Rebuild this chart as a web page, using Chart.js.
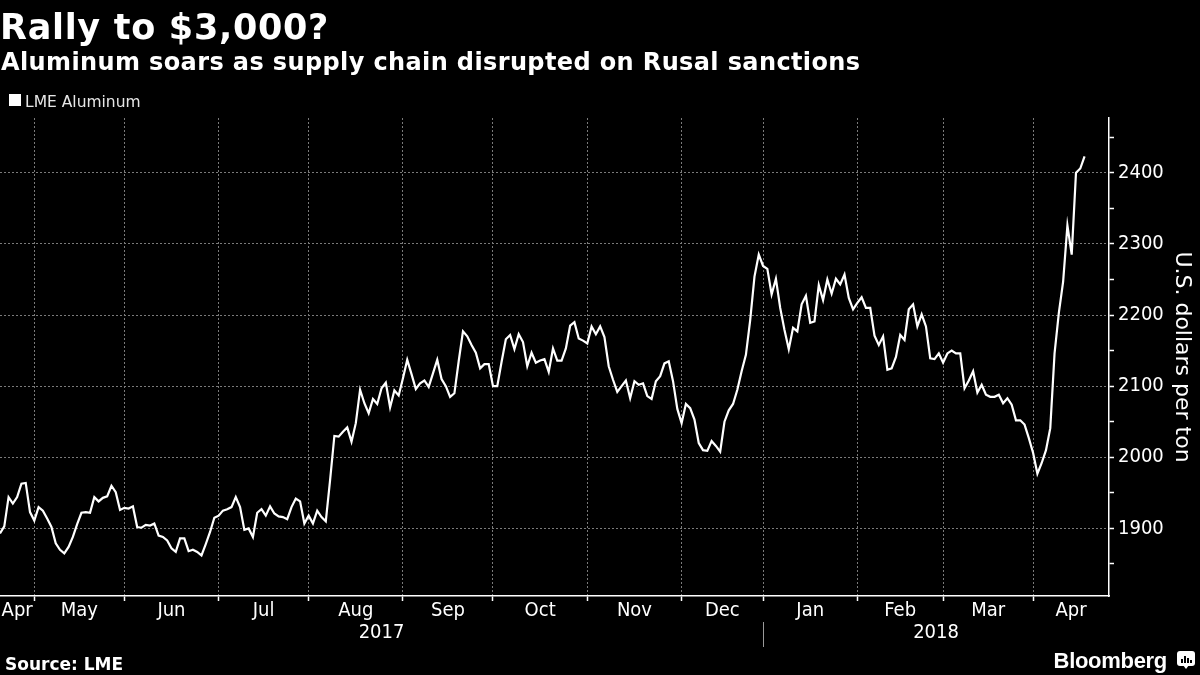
<!DOCTYPE html>
<html>
<head>
<meta charset="utf-8">
<title>Rally to $3,000?</title>
<script src="https://cdn.jsdelivr.net/npm/chart.js"></script>
<style>
    html, body { margin: 0; padding: 0; background: #000; }
    #wrap { position: relative; width: 1200px; height: 675px; overflow: hidden; background: #000; }
    #chart { position: absolute; left: 0; top: 0; }
    .txt { position: absolute; color: #fff; white-space: nowrap; line-height: 1; }
    #title { left: 0; top: 7px; font: bold 35px "DejaVu Sans"; letter-spacing: 0.7px; }
    #subtitle { left: 1px; top: 48px; font: bold 24px "DejaVu Sans"; letter-spacing: 0.38px; }
    #legendBox { position: absolute; left: 9px; top: 94px; width: 12px; height: 12px; background: #fff; }
    #legendText { left: 25px; top: 93px; font: 15.5px "DejaVu Sans"; color: #e6e6e6; }
    #source { left: 5px; top: 654px; font: bold 17px "DejaVu Sans"; }
    #brand { right: 33px; top: 648px; font: bold 22px "Liberation Sans"; letter-spacing: -0.3px; }
    #icon { position: absolute; left: 1177px; top: 651px; width: 18px; height: 15px; background: #fff; border-radius: 3px; }
    #icon i { position: absolute; bottom: 3px; width: 2px; background: #000; }
    #iconTail { position: absolute; left: 1183px; top: 665px; width: 0; height: 0;
        border-left: 3px solid transparent; border-right: 3px solid transparent; border-top: 4px solid #fff; }
</style>
</head>
<body>
<div id="wrap">
    <canvas id="chart" width="1200" height="675"></canvas>
    <div class="txt" id="title">Rally to $3,000?</div>
    <div class="txt" id="subtitle">Aluminum soars as supply chain disrupted on Rusal sanctions</div>
    <div id="legendBox"></div>
    <div class="txt" id="legendText">LME Aluminum</div>
    <div class="txt" id="source">Source: LME</div>
    <div class="txt" id="brand">Bloomberg</div>
    <div id="icon">
        <i style="left:4px;height:4px"></i>
        <i style="left:7px;height:7px"></i>
        <i style="left:10px;height:5px"></i>
        <i style="left:13px;height:3px"></i>
    </div>
    <div id="iconTail"></div>
</div>
<script>
// LME aluminium closes (USD/t), one array per month of trading days
const apr17 = [1893, 1903, 1944, 1935, 1944, 1963, 1964, 1923];
const may17 = [1911, 1930, 1925, 1914, 1902, 1879, 1870, 1865, 1874, 1888, 1906, 1922, 1923, 1922, 1944, 1938, 1943, 1945, 1960, 1951, 1926];
const jun17 = [1929, 1928, 1931, 1902, 1901, 1905, 1904, 1907, 1890, 1888, 1883, 1872, 1867, 1886, 1886, 1868, 1870, 1867, 1862, 1878, 1895, 1915];
const jul17 = [1918, 1925, 1927, 1930, 1944, 1930, 1898, 1900, 1888, 1922, 1927, 1918, 1931, 1921, 1917, 1916, 1913, 1930, 1942, 1938, 1907];
const aug17 = [1918, 1907, 1925, 1916, 1910, 1968, 2030, 2029, 2036, 2042, 2022, 2048, 2095, 2076, 2062, 2082, 2075, 2097, 2105, 2070, 2094, 2087];
const sep17 = [2111, 2137, 2117, 2096, 2104, 2108, 2099, 2118, 2137, 2110, 2100, 2085, 2090, 2135, 2177, 2170, 2158, 2147, 2125, 2131, 2131];
const oct17 = [2100, 2100, 2134, 2166, 2172, 2152, 2173, 2162, 2128, 2147, 2133, 2136, 2138, 2120, 2153, 2136, 2136, 2153, 2185, 2190, 2167, 2164];
const nov17 = [2160, 2184, 2173, 2184, 2169, 2128, 2109, 2092, 2100, 2108, 2083, 2107, 2102, 2104, 2086, 2082, 2107, 2114, 2132, 2135, 2107, 2068];
const dec17 = [2048, 2075, 2069, 2053, 2020, 2010, 2009, 2023, 2016, 2008, 2050, 2066, 2075, 2095, 2121, 2144, 2193, 2254, 2285];
const jan18 = [2269, 2265, 2229, 2251, 2210, 2179, 2152, 2182, 2177, 2215, 2227, 2189, 2191, 2242, 2221, 2250, 2230, 2251, 2243, 2257, 2224, 2208];
const feb18 = [2217, 2225, 2210, 2210, 2171, 2158, 2170, 2123, 2125, 2141, 2172, 2165, 2208, 2215, 2184, 2201, 2184, 2139, 2138, 2146];
const mar18 = [2133, 2146, 2150, 2146, 2146, 2097, 2108, 2121, 2091, 2102, 2088, 2085, 2085, 2088, 2076, 2083, 2074, 2052, 2052, 2046, 2027];
const apr18 = [2006, 1977, 1992, 2010, 2041, 2146, 2203, 2247, 2326, 2285, 2400, 2406, 2423];

const monthSeries = [apr17, may17, jun17, jul17, aug17, sep17, oct17, nov17, dec17, jan18, feb18, mar18, apr18];
const monthNames = ["Apr", "May", "Jun", "Jul", "Aug", "Sep", "Oct", "Nov", "Dec", "Jan", "Feb", "Mar", "Apr"];
const yearNames = ["2017", "2018"];
const yearFirstMonth = [0, 9];

const yLabelTicks = [1900, 2000, 2100, 2200, 2300, 2400];
const yMinorTicks = [1850, 1950, 2050, 2150, 2250, 2350, 2450];
const yMin = 1805;
const yMax = 2477;

// x is the trading-day index; months start where the previous one ends
const points = [];
const monthStart = [];
let idx = 0;
monthSeries.forEach(vals => {
    monthStart.push(idx);
    vals.forEach(v => {
        points.push({ x: idx, y: v });
        idx++;
    });
});
const xMin = 0;
const xMax = idx - 1 + 5.7;

const monthCenters = monthStart.map((s, i) => (s + (i + 1 < monthStart.length ? monthStart[i + 1] : xMax)) / 2);
const yearCenters = yearFirstMonth.map((m, i) => {
    const s = monthStart[m];
    const e = i + 1 < yearFirstMonth.length ? monthStart[yearFirstMonth[i + 1]] : xMax;
    return (s + e) / 2;
});

const tickFont = { family: "DejaVu Sans Condensed", size: 20, lineHeight: 1 };
const gridGrey = "#7a7a7a";

// thin separator between the year labels
const yearDivider = {
    id: "yearDivider",
    afterDraw(chart) {
        const { ctx, scales } = chart;
        const yr = scales.xYears;
        yearFirstMonth.slice(1).forEach(m => {
            const px = Math.round(scales.x.getPixelForValue(monthStart[m])) + 0.5;
            ctx.save();
            ctx.strokeStyle = "#9a9a9a";
            ctx.lineWidth = 1;
            ctx.beginPath();
            ctx.moveTo(px, yr.top - 1);
            ctx.lineTo(px, yr.bottom);
            ctx.stroke();
            ctx.restore();
        });
    }
};

new Chart(document.getElementById("chart").getContext("2d"), {
    type: "line",
    data: {
        datasets: [{
            label: "LME Aluminum",
            data: points,
            borderColor: "#ffffff",
            borderWidth: 2.2,
            pointRadius: 0,
            tension: 0,
            fill: false
        }]
    },
    options: {
        responsive: false,
        animation: false,
        layout: { padding: { top: 118, bottom: 28, left: 0, right: 0 } },
        plugins: {
            legend: { display: false },
            tooltip: { enabled: false }
        },
        scales: {
            x: {
                type: "linear",
                position: "bottom",
                weight: 0,
                min: xMin,
                max: xMax,
                afterBuildTicks: s => { s.ticks = monthStart.slice(1).map(v => ({ value: v })); },
                afterFit: s => { s.height = 5; },
                ticks: { display: false },
                grid: { color: gridGrey, lineWidth: 1, tickColor: "#ffffff", tickLength: 5, tickWidth: 1.5 },
                border: { display: true, color: "#ffffff", width: 1.5, dash: [2, 2] }
            },
            xMonths: {
                type: "linear",
                position: "bottom",
                weight: 1,
                min: xMin,
                max: xMax,
                afterBuildTicks: s => { s.ticks = monthCenters.map(v => ({ value: v })); },
                afterFit: s => { s.height = 22; },
                ticks: {
                    callback: (v, i) => monthNames[i],
                    color: "#ffffff",
                    font: tickFont,
                    padding: 0,
                    maxRotation: 0,
                    autoSkip: false
                },
                grid: { display: false, drawTicks: false },
                border: { display: false }
            },
            xYears: {
                type: "linear",
                position: "bottom",
                weight: 2,
                min: xMin,
                max: xMax,
                afterBuildTicks: s => { s.ticks = yearCenters.map(v => ({ value: v })); },
                afterFit: s => { s.height = 24; },
                ticks: {
                    callback: (v, i) => yearNames[i],
                    color: "#ffffff",
                    font: tickFont,
                    padding: 0,
                    maxRotation: 0,
                    autoSkip: false
                },
                grid: { display: false, drawTicks: false },
                border: { display: false }
            },
            y: {
                type: "linear",
                position: "right",
                min: yMin,
                max: yMax,
                afterBuildTicks: s => {
                    s.ticks = yLabelTicks.concat(yMinorTicks).sort((a, b) => a - b).map(v => ({ value: v }));
                },
                afterFit: s => { s.width = 91; },
                ticks: {
                    callback: v => (yLabelTicks.includes(v) ? String(v) : ""),
                    color: "#ffffff",
                    font: tickFont,
                    padding: 4,
                    autoSkip: false
                },
                grid: {
                    color: ctx => (ctx.tick && yLabelTicks.includes(ctx.tick.value) ? gridGrey : "rgba(0,0,0,0)"),
                    lineWidth: 1,
                    tickColor: "#ffffff",
                    tickLength: 5,
                    tickWidth: 1.5
                },
                border: { display: true, color: "#ffffff", width: 1.5, dash: [2, 2] },
                title: {
                    display: true,
                    text: "U.S. dollars per ton",
                    color: "#ffffff",
                    font: { family: "DejaVu Sans", size: 22, lineHeight: 1.2 },
                    padding: { top: 5, bottom: 0 }
                }
            }
        }
    },
    plugins: [yearDivider]
});
</script>
</body>
</html>
